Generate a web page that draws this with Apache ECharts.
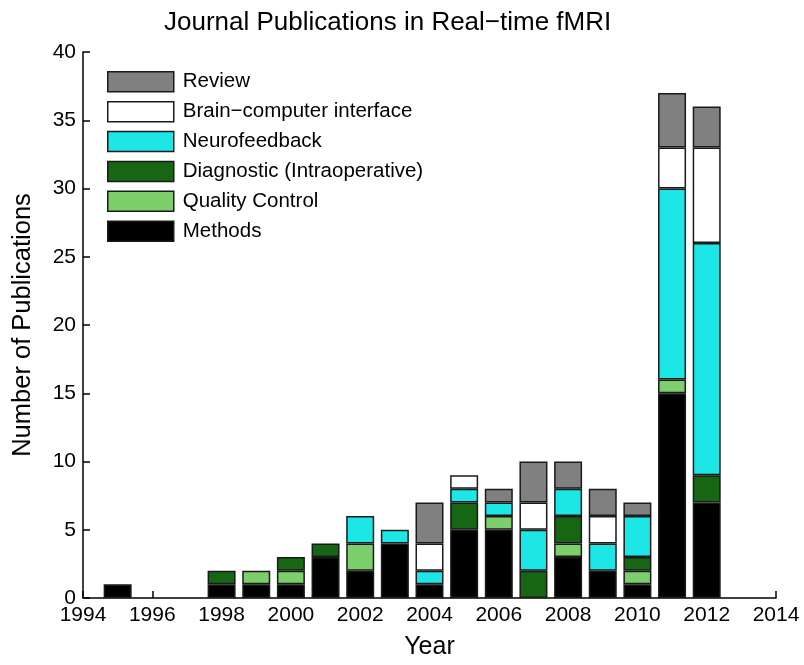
<!DOCTYPE html>
<html>
<head>
<meta charset="utf-8">
<script src="https://cdn.jsdelivr.net/npm/echarts@6/dist/echarts.min.js"></script>
<style>
  html, body { margin: 0; padding: 0; background: #fff; }
  #chart { width: 804px; height: 665px; }
</style>
</head>
<body>
<div id="chart"></div>
<script>
// x axis runs 1994..2014, labelled every 2 years
var axisYears = ['1994', '1995', '1996', '1997', '1998', '1999', '2000', '2001', '2002', '2003', '2004',
                 '2005', '2006', '2007', '2008', '2009', '2010', '2011', '2012', '2013', '2014'];

var years = ['1995', '1996', '1997', '1998', '1999', '2000', '2001', '2002', '2003', '2004', '2005', '2006', '2007', '2008', '2009', '2010', '2011', '2012'];

var methods    = [1, 0, 0, 1, 1, 1, 3, 2, 4, 1, 5, 5, 0, 3, 2, 1, 15, 7];
var quality    = [0, 0, 0, 0, 1, 1, 0, 2, 0, 0, 0, 1, 0, 1, 0, 1, 1, 0];
var diagnostic = [0, 0, 0, 1, 0, 1, 1, 0, 0, 0, 2, 0, 2, 2, 0, 1, 0, 2];
var neurofb    = [0, 0, 0, 0, 0, 0, 0, 2, 1, 1, 1, 1, 3, 2, 2, 3, 14, 17];
var bci        = [0, 0, 0, 0, 0, 0, 0, 0, 0, 2, 1, 0, 2, 0, 2, 0, 3, 7];
var review     = [0, 0, 0, 0, 0, 0, 0, 0, 0, 3, 0, 1, 3, 2, 2, 1, 4, 3];

var seriesNames = ['Methods', 'Quality Control', 'Diagnostic (Intraoperative)', 'Neurofeedback', 'Brain\u2212computer interface', 'Review'];
var seriesValues = [methods, quality, diagnostic, neurofb, bci, review];
var seriesColors = ['#000000', '#7ccf6b', '#166614', '#1ce6e6', '#ffffff', '#808080'];

function pairs(vals) {
  return years.map(function (y, i) {
    return [y, vals[i] > 0 ? vals[i] : '-'];
  });
}

var series = seriesNames.map(function (name, i) {
  return {
    name: name,
    type: 'bar',
    stack: 'total',
    barWidth: 28,
    data: pairs(seriesValues[i]),
    itemStyle: {
      color: seriesColors[i],
      borderColor: '#1a1a1a',
      borderWidth: 1.5
    }
  };
});

var chart = echarts.init(document.getElementById('chart'));
var font = 'Liberation Sans, Arial, Helvetica, sans-serif';

chart.setOption({
  backgroundColor: '#fff',
  animation: false,
  textStyle: { fontFamily: font },
  title: {
    text: 'Journal Publications in Real\u2212time fMRI',
    left: 159,
    top: 5,
    textStyle: { fontSize: 26, fontWeight: 'normal', color: '#000', fontFamily: font }
  },
  legend: {
    orient: 'vertical',
    left: 107,
    top: 71,
    padding: 0,
    icon: 'rect',
    itemWidth: 66,
    itemHeight: 20,
    itemGap: 8.4,
    data: seriesNames.slice().reverse(),
    textStyle: { fontSize: 20.5, lineHeight: 20, color: '#000', fontFamily: font, padding: [0, 0, 0, 4] },
    itemStyle: { borderColor: '#1a1a1a', borderWidth: 1.5 }
  },
  grid: { left: 83, right: 28, top: 52, bottom: 67 },
  xAxis: {
    type: 'category',
    data: axisYears,
    boundaryGap: false,
    name: 'Year',
    nameLocation: 'middle',
    nameGap: 37,
    nameTextStyle: { fontSize: 25, color: '#000' },
    axisLine: { lineStyle: { color: '#000', width: 1.5 } },
    axisTick: { inside: true, length: 7, interval: 1, lineStyle: { color: '#000', width: 1.5 } },
    axisLabel: { fontSize: 21, color: '#000', margin: 7, interval: 1 },
    splitLine: { show: false }
  },
  yAxis: {
    type: 'value',
    min: 0,
    max: 40,
    interval: 5,
    name: 'Number of Publications',
    nameLocation: 'middle',
    nameGap: 47,
    nameTextStyle: { fontSize: 25.5, color: '#000' },
    axisLine: { show: true, lineStyle: { color: '#000', width: 1.5 } },
    axisTick: { show: true, inside: true, length: 7, lineStyle: { color: '#000', width: 1.5 } },
    axisLabel: { fontSize: 21, color: '#000', margin: 7 },
    splitLine: { show: false }
  },
  series: series
});
</script>
</body>
</html>
